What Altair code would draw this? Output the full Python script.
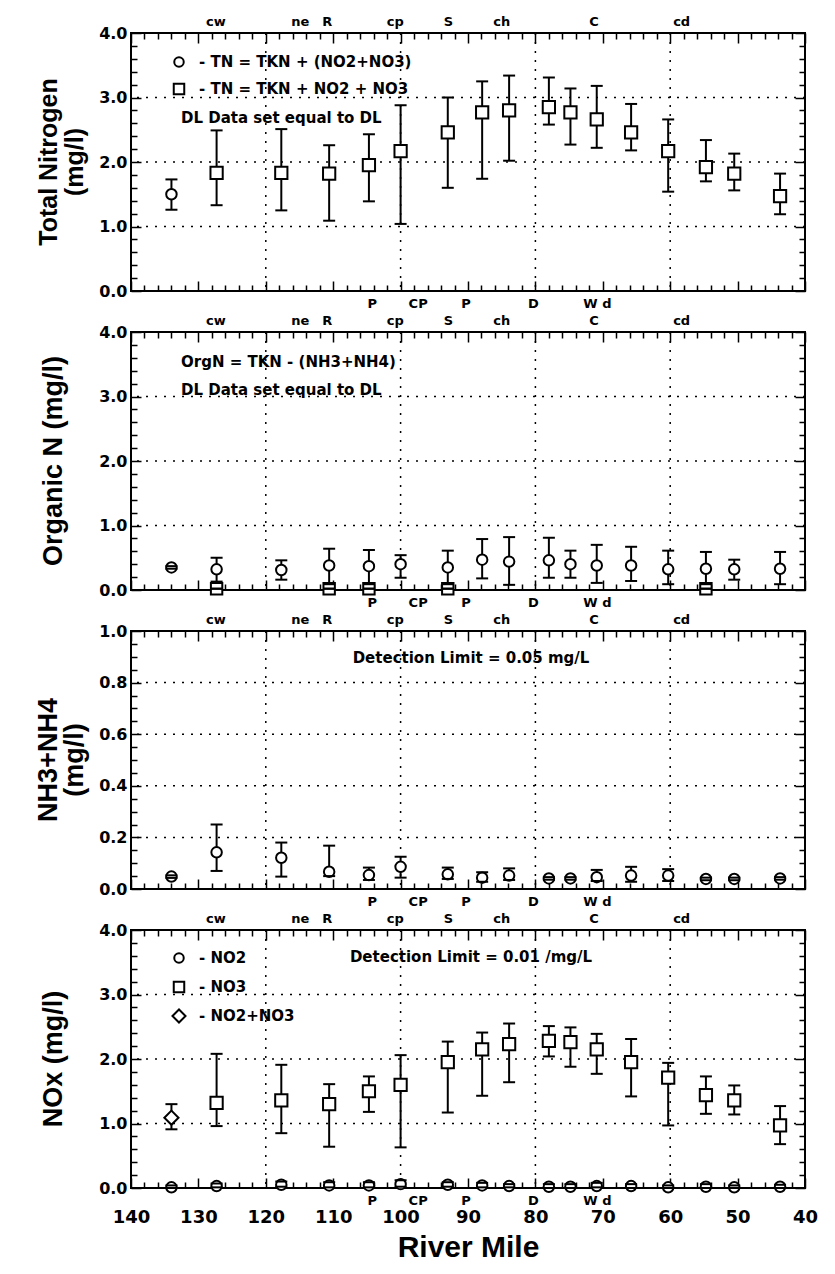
import json
import altair as alt
import pandas as pd

# ---------------- data ----------------
miles = [134.0, 127.3, 117.7, 110.6, 104.7, 100.0, 93.0, 87.9, 83.9, 78.0, 74.8, 70.9, 65.8, 60.3, 54.7, 50.5, 43.7]

tn_val = [1.50, 1.83, 1.83, 1.82, 1.95, 2.17, 2.46, 2.77, 2.80, 2.85, 2.77, 2.66, 2.46, 2.17, 1.92, 1.82, 1.47]
tn_hi = [1.73, 2.49, 2.51, 2.26, 2.43, 2.88, 3.00, 3.25, 3.34, 3.31, 3.14, 3.18, 2.90, 2.66, 2.34, 2.13, 1.82]
tn_lo = [1.26, 1.33, 1.25, 1.09, 1.39, 1.04, 1.60, 1.74, 2.02, 2.58, 2.27, 2.22, 2.18, 1.54, 1.70, 1.56, 1.19]

orgn_val = [0.35, 0.32, 0.31, 0.38, 0.37, 0.40, 0.35, 0.47, 0.44, 0.46, 0.40, 0.38, 0.38, 0.32, 0.33, 0.32, 0.33]
orgn_hi = [0.37, 0.50, 0.46, 0.64, 0.62, 0.54, 0.61, 0.79, 0.82, 0.81, 0.61, 0.70, 0.67, 0.61, 0.59, 0.47, 0.59]
orgn_lo = [0.33, 0.13, 0.16, 0.09, 0.09, 0.19, 0.09, 0.18, 0.08, 0.19, 0.19, 0.11, 0.14, 0.09, 0.09, 0.16, 0.09]
orgn_sq_miles = [127.3, 110.6, 104.7, 93.0, 54.7]
orgn_sq_val = [0.02, 0.02, 0.02, 0.02, 0.02]

nh_val = [0.048, 0.142, 0.121, 0.067, 0.054, 0.086, 0.057, 0.044, 0.052, 0.041, 0.041, 0.046, 0.052, 0.052, 0.039, 0.039, 0.041]
nh_hi = [0.053, 0.250, 0.180, 0.168, 0.083, 0.125, 0.083, 0.065, 0.080, 0.046, 0.046, 0.074, 0.086, 0.077, 0.044, 0.044, 0.046]
nh_lo = [0.043, 0.070, 0.048, 0.050, 0.035, 0.044, 0.039, 0.028, 0.035, 0.036, 0.036, 0.031, 0.028, 0.031, 0.034, 0.034, 0.036]

no23_miles = [134.0]
no23_val = [1.09]
no23_hi = [1.30]
no23_lo = [0.91]

no3_miles = miles[1:]
no3_val = [1.32, 1.36, 1.30, 1.50, 1.60, 1.95, 2.15, 2.23, 2.28, 2.26, 2.15, 1.95, 1.71, 1.44, 1.36, 0.97]
no3_hi = [2.08, 1.91, 1.61, 1.73, 2.06, 2.27, 2.41, 2.55, 2.51, 2.49, 2.39, 2.31, 1.94, 1.73, 1.59, 1.27]
no3_lo = [0.96, 0.85, 0.64, 1.18, 0.63, 1.17, 1.43, 1.64, 2.04, 1.88, 1.77, 1.42, 0.97, 1.15, 1.14, 0.68]

no2_val = [0.01, 0.03, 0.05, 0.04, 0.04, 0.06, 0.05, 0.04, 0.03, 0.02, 0.02, 0.03, 0.03, 0.01, 0.02, 0.01, 0.02]
no2_hi = [0.04, 0.07, 0.10, 0.09, 0.09, 0.12, 0.09, 0.08, 0.06, 0.06, 0.06, 0.08, 0.06, 0.04, 0.06, 0.04, 0.05]
no2_lo = [0.00, 0.01, 0.02, 0.01, 0.01, 0.02, 0.02, 0.01, 0.01, 0.00, 0.00, 0.01, 0.00, 0.00, 0.00, 0.00, 0.00]

top_lab_text = ["cw", "ne", "R", "cp", "S", "ch", "C", "cd"]
top_lab_mile = [127.4, 114.9, 110.9, 100.8, 92.9, 85.0, 71.3, 58.3]
bot_lab_text = ["P", "CP", "P", "D", "W d"]
bot_lab_mile = [104.2, 97.4, 90.3, 80.3, 70.8]

x_labels = [140, 130, 120, 110, 100, 90, 80, 70, 60, 50, 40]
x_minor = [m for m in range(40, 141, 2) if m % 10 != 0]
x_grid = [120, 100, 80, 60]

# ---------------- style ----------------
W, H = 674, 258
SMALL = "DejaVu Sans"
BIG = "Liberation Sans"
MAJ, MIN = 10, 6

xscale = alt.Scale(domain=[40, 140], reverse=True, nice=False, zero=False)


def dash_for(majors, span, use_cond):
    # axis gridlines drawn only as a short dash at each end => inward ticks on both edges
    major_dash = [MAJ, span - 2 * MAJ, MAJ, 3000]
    minor_dash = [MIN, span - 2 * MIN, MIN, 3000]
    if not use_cond:
        return [8, span - 16, 8, 3000]
    test = "indexof(%s, datum.value) >= 0" % json.dumps(majors)
    return alt.condition(test, alt.value(major_dash), alt.value(minor_dash))


def xenc(show, use_cond):
    vals = sorted(x_labels + x_minor, reverse=True)
    common = dict(values=vals, ticks=False, domain=False, grid=True, gridColor="black",
                  gridWidth=1.5, gridOpacity=1, gridDash=dash_for(x_labels, H, use_cond))
    if show:
        ax = alt.Axis(format="d", labelFont=SMALL, labelFontSize=18, labelFontWeight="bold",
                      labelColor="black", labelFlush=False, labelOverlap=False,
                      labelExpr="indexof(%s, datum.value) >= 0 ? datum.label : ''" % json.dumps(x_labels),
                      labelPadding=20, title="River Mile", titleFont=BIG, titleFontSize=30,
                      titleFontWeight="bold", titleColor="black", titlePadding=6, **common)
    else:
        ax = alt.Axis(labels=False, title=None, **common)
    return alt.X("mile:Q", scale=xscale, axis=ax)


def make_yenc(dom, ymajor, yminor, use_cond):
    vals = sorted(list(ymajor) + list(yminor))
    ax = alt.Axis(values=vals, format=".1f", labelFont=SMALL, labelFontSize=16,
                  labelFontWeight="bold", labelColor="black", labelOverlap=False,
                  labelExpr="indexof(%s, datum.value) >= 0 ? datum.label : ''" % json.dumps(ymajor),
                  ticks=False, domain=False, grid=True, gridColor="black", gridWidth=1.5,
                  gridOpacity=1, gridDash=dash_for(ymajor, W, use_cond),
                  labelPadding=4, title=None)
    sc = alt.Scale(domain=dom, nice=False, zero=False)

    def Y(field):
        return alt.Y(field + ":Q", scale=sc, axis=ax)
    return Y


def one():
    return pd.DataFrame({"a": [0]})


def panel(dom, ymajor, yminor, ygrid, series, legend, title_lines, title_x, title_size,
          show_x, use_cond):
    X = xenc(show_x, use_cond)
    Y = make_yenc(dom, ymajor, yminor, use_cond)
    layers = []
    # dotted grid
    layers.append(alt.Chart(pd.DataFrame({"v": ygrid})).mark_rule(
        color="black", strokeDash=[2, 7], strokeWidth=1.5).encode(y=Y("v")))
    layers.append(alt.Chart(pd.DataFrame({"mile": x_grid})).mark_rule(
        color="black", strokeDash=[2, 7], strokeWidth=1.5).encode(x=X))
    # data series: bar, marker, caps
    for s in series:
        d = pd.DataFrame({"mile": s["mile"], "v": s["val"], "hi": s["hi"], "lo": s["lo"]})
        layers.append(alt.Chart(d).mark_rule(color="black", strokeWidth=2).encode(
            x=X, y=Y("lo"), y2=alt.Y2("hi:Q")))
        layers.append(alt.Chart(d).mark_point(
            shape=s["shape"], filled=True, color="white", stroke="black", strokeWidth=2,
            size=s["size"], opacity=1).encode(x=X, y=Y("v")))
        for f in ("hi", "lo"):
            layers.append(alt.Chart(d).mark_tick(
                orient="horizontal", color="black", size=12, thickness=2, opacity=1).encode(
                x=X, y=Y(f)))
    # site labels above and below the frame
    layers.append(alt.Chart(pd.DataFrame({"mile": top_lab_mile, "t": top_lab_text})).mark_text(
        font=SMALL, fontSize=13, fontWeight="bold", color="black", baseline="middle").encode(
        x=X, y=alt.value(-11), text="t:N"))
    layers.append(alt.Chart(pd.DataFrame({"mile": bot_lab_mile, "t": bot_lab_text})).mark_text(
        font=SMALL, fontSize=13, fontWeight="bold", color="black", baseline="middle").encode(
        x=X, y=alt.value(H + 13), text="t:N"))
    # in-plot legend / notes
    for item in legend:
        if item[0] == "sym":
            _, shp, px, py, sz = item
            layers.append(alt.Chart(one()).mark_point(
                shape=shp, filled=True, color="white", stroke="black", strokeWidth=2,
                size=sz, opacity=1).encode(x=alt.value(px), y=alt.value(py)))
        else:
            _, txt, px, py, al = item
            layers.append(alt.Chart(one()).mark_text(
                font=SMALL, fontSize=15, fontWeight="bold", color="black", align=al,
                baseline="middle").encode(x=alt.value(px), y=alt.value(py), text=alt.value(txt)))
    # y title
    layers.append(alt.Chart(one()).mark_text(
        font=BIG, fontSize=title_size, fontWeight="bold", color="black", angle=270,
        align="center", baseline="middle", lineBreak="\n", lineHeight=26).encode(
        x=alt.value(title_x), y=alt.value(H / 2), text=alt.value(title_lines)))
    return alt.layer(*layers).properties(width=W, height=H)


minor4 = [round(i * 0.2, 1) for i in range(21) if i % 5 != 0]
minor1 = [round(i * 0.05, 2) for i in range(21) if i % 4 != 0]


def build(use_cond):
    p1 = panel([0, 4], [0, 1, 2, 3, 4], minor4, [1, 2, 3],
               [
                   {"mile": miles[:1], "val": tn_val[:1], "hi": tn_hi[:1], "lo": tn_lo[:1], "shape": "circle", "size": 110},
                   {"mile": miles[1:], "val": tn_val[1:], "hi": tn_hi[1:], "lo": tn_lo[1:], "shape": "square", "size": 150},
               ],
               [("sym", "circle", 48, 29, 90), ("txt", "- TN = TKN + (NO2+NO3)", 68, 29, "left"),
                ("sym", "square", 48, 56, 110), ("txt", "- TN = TKN + NO2 + NO3", 68, 56, "left"),
                ("txt", "DL Data set equal to DL", 50, 85, "left")],
               "Total Nitrogen\n(mg/l)", -82, 25, False, use_cond)

    p2 = panel([0, 4], [0, 1, 2, 3, 4], minor4, [1, 2, 3],
               [
                   {"mile": orgn_sq_miles, "val": orgn_sq_val, "hi": orgn_sq_val, "lo": orgn_sq_val, "shape": "square", "size": 130},
                   {"mile": miles, "val": orgn_val, "hi": orgn_hi, "lo": orgn_lo, "shape": "circle", "size": 110},
               ],
               [("txt", "OrgN = TKN - (NH3+NH4)", 50, 30, "left"),
                ("txt", "DL Data set equal to DL", 50, 58, "left")],
               "Organic N (mg/l)", -77, 27, False, use_cond)

    p3 = panel([0, 1], [0, 0.2, 0.4, 0.6, 0.8, 1.0], minor1, [0.2, 0.4, 0.6, 0.8],
               [
                   {"mile": miles, "val": nh_val, "hi": nh_hi, "lo": nh_lo, "shape": "circle", "size": 110},
               ],
               [("txt", "Detection Limit = 0.05 mg/L", 340, 27, "center")],
               "NH3+NH4\n(mg/l)", -82, 27, False, use_cond)

    p4 = panel([0, 4], [0, 1, 2, 3, 4], minor4, [1, 2, 3],
               [
                   {"mile": no23_miles, "val": no23_val, "hi": no23_hi, "lo": no23_lo, "shape": "diamond", "size": 200},
                   {"mile": no3_miles, "val": no3_val, "hi": no3_hi, "lo": no3_lo, "shape": "square", "size": 150},
                   {"mile": miles, "val": no2_val, "hi": no2_hi, "lo": no2_lo, "shape": "circle", "size": 110},
               ],
               [("sym", "circle", 48, 28, 90), ("txt", "- NO2", 68, 28, "left"),
                ("sym", "square", 48, 57, 110), ("txt", "- NO3", 68, 57, "left"),
                ("sym", "diamond", 48, 86, 170), ("txt", "- NO2+NO3", 68, 86, "left"),
                ("txt", "Detection Limit = 0.01 /mg/L", 340, 27, "center")],
               "NOx (mg/l)", -77, 27, True, use_cond)

    return alt.vconcat(p1, p2, p3, p4, spacing=41, bounds="flush").properties(
        padding={"left": 26, "top": 7, "right": 5, "bottom": 5},
        background="white",
    ).configure_view(stroke="black", strokeWidth=2)


try:
    chart = build(True)
    chart.to_dict()
except Exception:
    chart = build(False)

chart.save("out.html", embed_options={"renderer": "svg", "actions": False})
